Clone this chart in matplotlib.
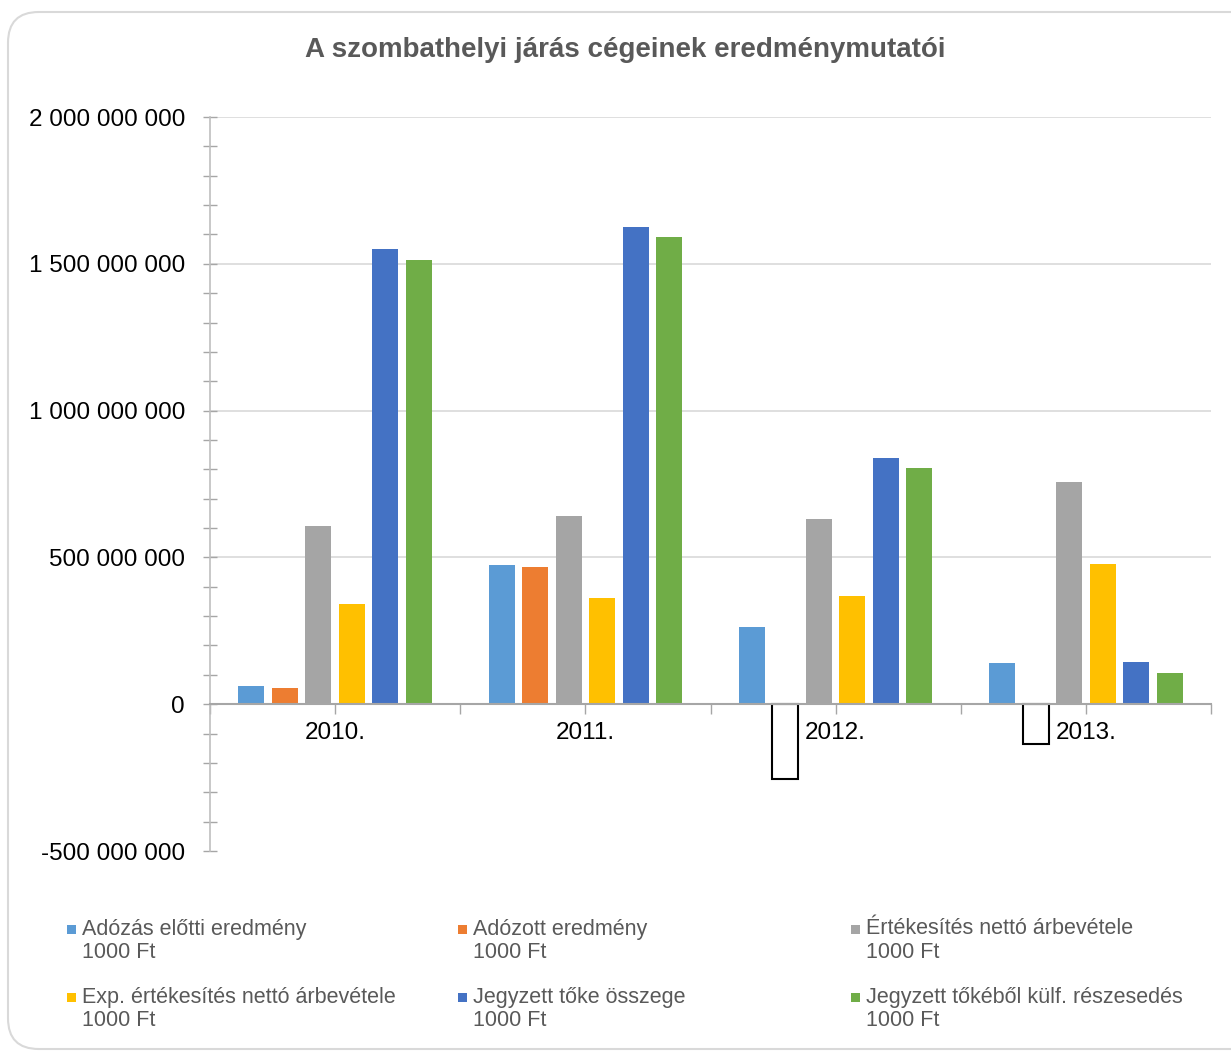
import matplotlib
matplotlib.use("Agg")
import matplotlib.pyplot as plt
from matplotlib.patches import FancyBboxPatch, Rectangle
from matplotlib.ticker import FuncFormatter, MultipleLocator
import numpy as np

plt.rcParams['font.family'] = ['Liberation Sans', 'DejaVu Sans']

# data (1000 Ft)
years = ["2010.", "2011.", "2012.", "2013."]
labels = ["Adózás előtti eredmény", "Adózott eredmény", "Értékesítés nettó árbevétele",
          "Exp. értékesítés nettó árbevétele", "Jegyzett tőke összege",
          "Jegyzett tőkéből külf. részesedés"]
adozas_elotti = [61e6, 474e6, 262e6, 140e6]
adozott = [55e6, 467e6, -256e6, -136e6]
ertekesites = [606e6, 641e6, 630e6, 756e6]
exp_ertekesites = [341e6, 361e6, 368e6, 477e6]
jegyzett_toke = [1550e6, 1625e6, 838e6, 143e6]
kulf_reszesedes = [1513e6, 1591e6, 804e6, 106e6]
series = [adozas_elotti, adozott, ertekesites, exp_ertekesites, jegyzett_toke, kulf_reszesedes]
colors = ["#5B9BD5", "#ED7D31", "#A5A5A5", "#FFC000", "#4472C4", "#70AD47"]

W, H = 1231, 1053
fig = plt.figure(figsize=(W / 100, H / 100), dpi=100)

# rounded chart border (behind the axes)
border = FancyBboxPatch((8 / W, 4 / H), 1.1, (H - 16) / H,
                        boxstyle="round,pad=0,rounding_size=0.025",
                        transform=fig.transFigure, facecolor="white",
                        edgecolor="#d9d9d9", linewidth=1.5, mutation_aspect=W / H,
                        zorder=-10)
fig.patches.append(border)

ax = fig.add_axes([210 / W, 1 - 851 / H, 1001 / W, 734 / H])
ax.patch.set_alpha(0)

x = np.arange(len(years))
step = 0.134
width = 0.104
for i, (vals, col) in enumerate(zip(series, colors)):
    pos = x + (i - 2.5) * step
    for p, v in zip(pos, vals):
        if v < 0:
            # negative values: inverted (white) fill with black outline
            ax.bar(p, v, width, color="white", edgecolor="black", linewidth=1.5, zorder=3)
        else:
            ax.bar(p, v, width, color=col, zorder=3)

ax.set_xlim(-0.5, 3.5)
ax.set_ylim(-500e6, 2000e6)

# gridlines at major positive ticks
for g in [500e6, 1000e6, 1500e6, 2000e6]:
    ax.axhline(g, color="#d9d9d9", linewidth=1.2, zorder=1)

ax.yaxis.set_major_locator(MultipleLocator(500e6))
ax.yaxis.set_minor_locator(MultipleLocator(100e6))
ax.yaxis.set_major_formatter(FuncFormatter(
    lambda v, p: "{:,.0f}".format(v).replace(",", " ")))
ax.tick_params(axis="y", which="both", direction="inout", length=10, width=1,
               color="#a6a6a6", labelsize=17.5, labelcolor="black", pad=13)

ax.spines["top"].set_visible(False)
ax.spines["right"].set_visible(False)
ax.spines["left"].set_color("#bfbfbf")
ax.spines["left"].set_linewidth(1.2)
ax.spines["bottom"].set_position(("data", 0))
ax.spines["bottom"].set_color("#a6a6a6")
ax.spines["bottom"].set_linewidth(1.5)
ax.spines["bottom"].set_zorder(4)

ax.set_xticks(x)
ax.set_xticklabels(years)
ax.set_xticks(np.arange(-0.5, 4, 1), minor=True)
ax.tick_params(axis="x", which="both", direction="out", length=7, width=1,
               color="#a6a6a6", labelsize=17.5, labelcolor="black", pad=6)

fig.text(625 / W, 1 - 50 / H, "A szombathelyi járás cégeinek eredménymutatói",
         ha="center", va="center", fontsize=20, fontweight="bold", color="#595959")

# legend, drawn by hand: 3 columns x 2 rows
col_x = [67, 458, 851]
row_y = [929, 997]
for i, (lab, col) in enumerate(zip(labels, colors)):
    cx = col_x[i % 3]
    ry = row_y[i // 3]
    fig.add_artist(Rectangle((cx / W, 1 - (ry + 5) / H), 9 / W, 9 / H,
                             transform=fig.transFigure, facecolor=col, edgecolor="none"))
    fig.text((cx + 15) / W, 1 - ry / H, lab, ha="left", va="center",
             fontsize=15.5, color="#595959")
    fig.text((cx + 15) / W, 1 - (ry + 24) / H, "1000 Ft", ha="left", va="center",
             fontsize=15.5, color="#595959")

fig.savefig("out.png", dpi=100)
